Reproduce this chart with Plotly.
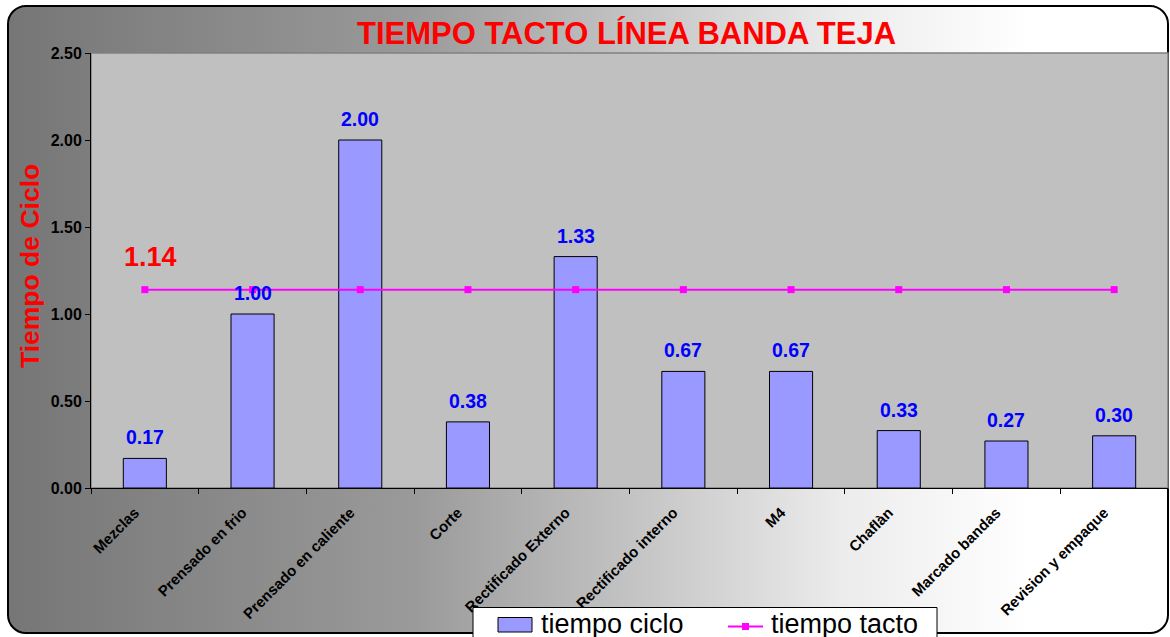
import base64
import plotly.graph_objects as go

categories = ["Mezclas", "Prensado en frio", "Prensado en caliente", "Corte",
              "Rectificado Externo", "Rectificado interno", "M4", "Chaflàn",
              "Marcado bandas", "Revision y empaque"]
tiempo_ciclo = [0.17, 1.00, 2.00, 0.38, 1.33, 0.67, 0.67, 0.33, 0.27, 0.30]
tiempo_tacto = [1.14] * len(categories)
series_names = ["tiempo ciclo", "tiempo tacto"]
title_text = "TIEMPO TACTO LÍNEA BANDA TEJA"
y_title = "Tiempo de Ciclo"

BAR_COLOR = "#9999FF"
LINE_COLOR = "#FF00FF"

W, H = 1170, 637
L, R, T, B = 91, 2, 53, 149
pw, ph = W - L - R, H - T - B

def px_x(px):
    return (px - L) / pw

def px_y(py):
    return (H - B - py) / ph

FONT = "Arial, Liberation Sans, sans-serif"

svg = f'''<svg xmlns="http://www.w3.org/2000/svg" width="{W}" height="{H}" viewBox="0 0 {W} {H}">
<defs><linearGradient id="g" x1="0" y1="0" x2="1" y2="0">
<stop offset="0" stop-color="#767676"/>
<stop offset="0.35" stop-color="#9a9a9a"/>
<stop offset="0.55" stop-color="#c6c6c6"/>
<stop offset="0.72" stop-color="#ececec"/>
<stop offset="0.88" stop-color="#ffffff"/>
<stop offset="1" stop-color="#ffffff"/>
</linearGradient></defs>
<rect x="8" y="6" width="1160" height="627" rx="18" ry="18" fill="url(#g)" stroke="#000" stroke-width="2"/>
<rect x="{L}" y="{T}" width="{pw}" height="{ph}" fill="#C0C0C0" stroke="#808080" stroke-width="1.5"/>
</svg>'''
src = "data:image/svg+xml;base64," + base64.b64encode(svg.encode()).decode()

fig = go.Figure()
fig.add_trace(go.Bar(
    x=categories, y=tiempo_ciclo, name=series_names[0], width=0.4,
    marker=dict(color=BAR_COLOR, line=dict(color="#000000", width=1)),
))
fig.add_trace(go.Scatter(
    x=categories, y=tiempo_tacto, name=series_names[1], mode="lines+markers",
    line=dict(color=LINE_COLOR, width=2),
    marker=dict(symbol="square", size=7, color=LINE_COLOR),
))

annotations = []
for c, v in zip(categories, tiempo_ciclo):
    annotations.append(dict(
        x=c, y=v, xref="x", yref="y", text=f"<b>{v:.2f}</b>", showarrow=False,
        yanchor="bottom", yshift=8, font=dict(family=FONT, size=19.5, color="#0000FF"),
    ))
annotations.append(dict(
    x=categories[0], y=tiempo_tacto[0], xref="x", yref="y",
    text=f"<b>{tiempo_tacto[0]:.2f}</b>", showarrow=False, yanchor="bottom",
    xshift=6, yshift=16, font=dict(family=FONT, size=27, color="#FF0000"),
))
annotations.append(dict(
    x=px_x(30), y=px_y(266), xref="paper", yref="paper", text=f"<b>{y_title}</b>",
    xanchor="center", yanchor="middle",
    showarrow=False, textangle=-90, font=dict(family=FONT, size=26.5, color="#FF0000"),
))

# custom legend (Excel-style wide swatches)
shapes = [
    dict(type="rect", xref="paper", yref="paper", x0=px_x(473), x1=px_x(937),
         y0=px_y(607.5), y1=px_y(665), fillcolor="#FFFFFF",
         line=dict(color="#000000", width=1)),
    dict(type="rect", xref="paper", yref="paper", x0=px_x(498), x1=px_x(532),
         y0=px_y(617.5), y1=px_y(632), fillcolor=BAR_COLOR,
         line=dict(color="#000000", width=1)),
    dict(type="line", xref="paper", yref="paper", x0=px_x(728), x1=px_x(763),
         y0=px_y(626.5), y1=px_y(626.5), line=dict(color=LINE_COLOR, width=2)),
    dict(type="rect", xref="paper", yref="paper", x0=px_x(742), x1=px_x(749),
         y0=px_y(623), y1=px_y(630), fillcolor=LINE_COLOR,
         line=dict(color=LINE_COLOR, width=0)),
]
for name, xpx in zip(series_names, [539, 769]):
    annotations.append(dict(
        x=px_x(xpx), y=px_y(624), xref="paper", yref="paper", text=name,
        xanchor="left", yanchor="middle", showarrow=False,
        font=dict(family=FONT, size=27, color="#000000"),
    ))

fig.update_layout(
    width=W, height=H,
    margin=dict(l=L, r=R, t=T, b=B, pad=0, autoexpand=False),
    paper_bgcolor="#FFFFFF", plot_bgcolor="rgba(0,0,0,0)",
    font=dict(family=FONT, color="#000000"),
    title=dict(text=f"<b>{title_text}</b>", x=626.5 / W, y=1 - 33 / H,
               xanchor="center", yanchor="middle",
               font=dict(family=FONT, size=31, color="#FF0000")),
    showlegend=False,
    bargap=0.6,
    annotations=annotations,
    shapes=shapes,
    images=[dict(source=src, xref="paper", yref="paper", x=px_x(0), y=px_y(0),
                 sizex=W / pw, sizey=H / ph, xanchor="left", yanchor="top",
                 sizing="stretch", layer="below")],
)
fig.update_xaxes(
    range=[-0.5, len(categories) - 0.5],
    showgrid=False, showline=True, linecolor="#000000", linewidth=1,
    ticks="outside", tickson="boundaries", ticklen=5, tickcolor="#000000",
    tickangle=-45, tickfont=dict(family=FONT, size=15, color="#000000"),
    ticklabelshift=-10, ticklabelstandoff=9,
    tickprefix="<b>", ticksuffix="</b>", zeroline=False, automargin=False,
)
fig.update_yaxes(
    range=[0, 2.5], dtick=0.5, tickformat=".2f", showgrid=False,
    showline=True, linecolor="#000000", linewidth=1,
    ticks="outside", ticklen=5, tickcolor="#000000",
    tickfont=dict(family=FONT, size=16, color="#000000"),
    tickprefix="<b>", ticksuffix="</b>", zeroline=False, automargin=False,
)

fig.write_html(
    "out.html",
    config={"displayModeBar": False},
    post_script="document.body.style.margin='0px';document.body.style.overflow='hidden';",
)
